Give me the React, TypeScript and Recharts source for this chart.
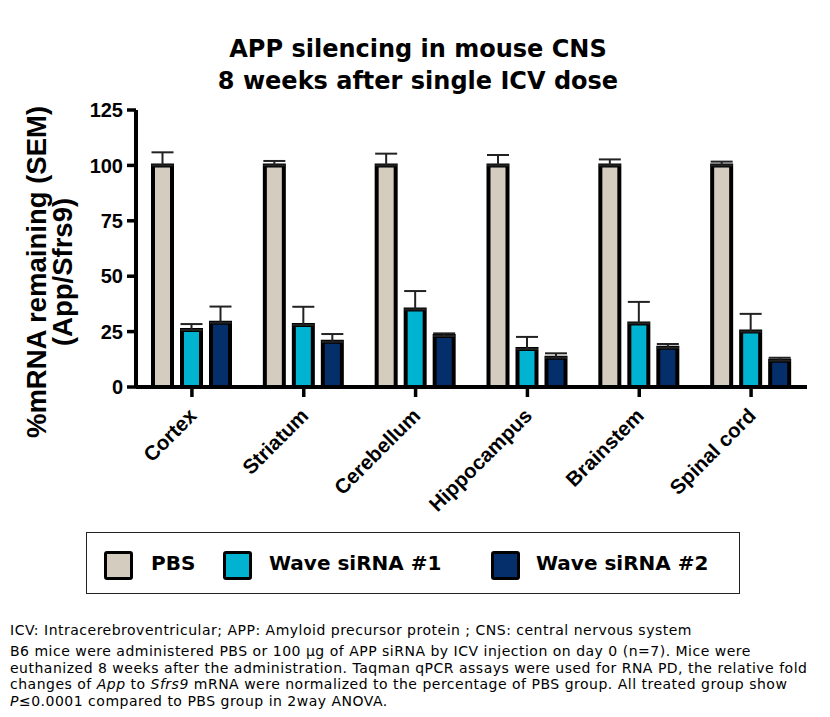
import { Bar, BarChart, ErrorBar, Legend, XAxis, YAxis } from "recharts";

const categories = ["Cortex", "Striatum", "Cerebellum", "Hippocampus", "Brainstem", "Spinal cord"];
const pbs = [100, 100, 100, 100, 100, 100];
const pbsSem = [5.9, 2, 5.3, 4.7, 2.7, 1.7];
const wave1 = [25.7, 28, 35, 17.1, 28.7, 25];
const wave1Sem = [2.7, 8.2, 8.3, 5.5, 9.7, 8];
const wave2 = [29, 20.4, 23, 13.2, 17.7, 11.9];
const wave2Sem = [7.3, 3.5, 1.2, 2, 1.7, 1.3];
const yTicks = [0, 25, 50, 75, 100, 125];

const data = categories.map((tissue, i) => ({
  tissue,
  pbs: pbs[i],
  pbsErr: [0, pbsSem[i]],
  wave1: wave1[i],
  wave1Err: [0, wave1Sem[i]],
  wave2: wave2[i],
  wave2Err: [0, wave2Sem[i]],
}));

const ARIAL = "'Liberation Sans', Arial, sans-serif";
const VERDANA = "'DejaVu Sans', Verdana, sans-serif";

function XTick({ x, y, payload }: any) {
  return (
    <g transform={`translate(${x + 6},${y + 18})`}>
      <text
        textAnchor="end"
        transform="rotate(-45)"
        fontFamily={ARIAL}
        fontWeight="bold"
        fontSize={20.5}
        fill="#000"
      >
        {payload.value}
      </text>
    </g>
  );
}

function YLabel() {
  return (
    <g fontFamily={ARIAL} fontWeight="bold" fontSize={27.5} fill="#000">
      <text transform="translate(46,272) rotate(-90)" textAnchor="middle">
        %mRNA remaining (SEM)
      </text>
      <text transform="translate(72,272) rotate(-90)" textAnchor="middle">
        (App/Sfrs9)
      </text>
    </g>
  );
}

function LegendBox({ payload }: any) {
  const swatchX = [17, 136, 404];
  const textX = [64, 182, 449];
  return (
    <div
      style={{
        position: "relative",
        width: 652,
        height: 60,
        border: "1.5px solid #222",
        background: "#fff",
      }}
    >
      {(payload || []).map((p: any, i: number) => (
        <div key={p.value}>
          <div
            style={{
              position: "absolute",
              left: swatchX[i],
              top: 18,
              width: 23,
              height: 23,
              background: p.color,
              border: "3.5px solid #000",
              borderRadius: 3,
            }}
          />
          <div
            style={{
              position: "absolute",
              left: textX[i],
              top: 17,
              fontFamily: VERDANA,
              fontWeight: "bold",
              fontSize: 20,
              lineHeight: "26px",
              whiteSpace: "nowrap",
              color: "#000",
            }}
          >
            {p.value}
          </div>
        </div>
      ))}
    </div>
  );
}

const noteLine = { whiteSpace: "nowrap" as const, height: 16.5 };

export default function App() {
  return (
    <div
      style={{
        position: "absolute",
        left: 0,
        top: 0,
        width: 830,
        height: 717,
        background: "#fff",
        overflow: "hidden",
      }}
    >
      <div
        style={{
          position: "absolute",
          left: 0,
          top: 33,
          width: 836,
          textAlign: "center",
          fontFamily: VERDANA,
          fontWeight: "bold",
          fontSize: 24,
          lineHeight: "32px",
          color: "#000",
        }}
      >
        <div>APP silencing in mouse CNS</div>
        <div>8 weeks after single ICV dose</div>
      </div>

      <BarChart
        width={830}
        height={717}
        data={data}
        margin={{ top: 110, right: 23, bottom: 270, left: 76 }}
        barGap={10}
        style={{ position: "absolute", left: 0, top: 0 }}
      >
        <XAxis
          dataKey="tissue"
          height={60}
          interval={0}
          tick={<XTick />}
          tickSize={10}
          tickMargin={2}
          axisLine={{ stroke: "#000", strokeWidth: 4 }}
          tickLine={{ stroke: "#000", strokeWidth: 3.5 }}
        />
        <YAxis
          width={60}
          domain={[0, 125]}
          ticks={yTicks}
          interval={0}
          tickSize={9}
          tickMargin={4}
          axisLine={{ stroke: "#000", strokeWidth: 4 }}
          tickLine={{ stroke: "#000", strokeWidth: 3.5 }}
          tick={{ fill: "#000", fontFamily: ARIAL, fontWeight: "bold", fontSize: 20 }}
          label={{ content: <YLabel /> }}
        />
        <Legend
          verticalAlign="middle"
          align="center"
          layout="horizontal"
          wrapperStyle={{ position: "absolute", left: 86, top: 532, width: 655, height: 63 }}
          content={<LegendBox />}
        />
        <Bar dataKey="pbs" name="PBS" fill="#d4ccbf" stroke="#000" strokeWidth={4} barSize={19} isAnimationActive={false}>
          <ErrorBar dataKey="pbsErr" direction="y" width={11} stroke="#222" strokeWidth={2} />
        </Bar>
        <Bar dataKey="wave1" name="Wave siRNA #1" fill="#00b3d1" stroke="#000" strokeWidth={4} barSize={19} isAnimationActive={false}>
          <ErrorBar dataKey="wave1Err" direction="y" width={11} stroke="#222" strokeWidth={2} />
        </Bar>
        <Bar dataKey="wave2" name="Wave siRNA #2" fill="#052f6b" stroke="#000" strokeWidth={4} barSize={19} isAnimationActive={false}>
          <ErrorBar dataKey="wave2Err" direction="y" width={11} stroke="#222" strokeWidth={2} />
        </Bar>
      </BarChart>

      <div
        style={{
          position: "absolute",
          left: 10,
          top: 622,
          fontFamily: VERDANA,
          fontSize: 14,
          letterSpacing: 0.5,
          lineHeight: "16.5px",
          color: "#000",
        }}
      >
        <div style={{ ...noteLine, marginBottom: 4.5 }}>
          ICV: Intracerebroventricular; APP: Amyloid precursor protein ; CNS: central nervous system
        </div>
        <div style={noteLine}>
          B6 mice were administered PBS or 100 µg of APP siRNA by ICV injection on day 0 (n=7). Mice were
        </div>
        <div style={noteLine}>
          euthanized 8 weeks after the administration. Taqman qPCR assays were used for RNA PD, the relative fold
        </div>
        <div style={noteLine}>
          changes of <i>App</i> to <i>Sfrs9</i> mRNA were normalized to the percentage of PBS group. All treated group show
        </div>
        <div style={noteLine}>
          <i>P</i>≤0.0001 compared to PBS group in 2way ANOVA.
        </div>
      </div>
    </div>
  );
}
